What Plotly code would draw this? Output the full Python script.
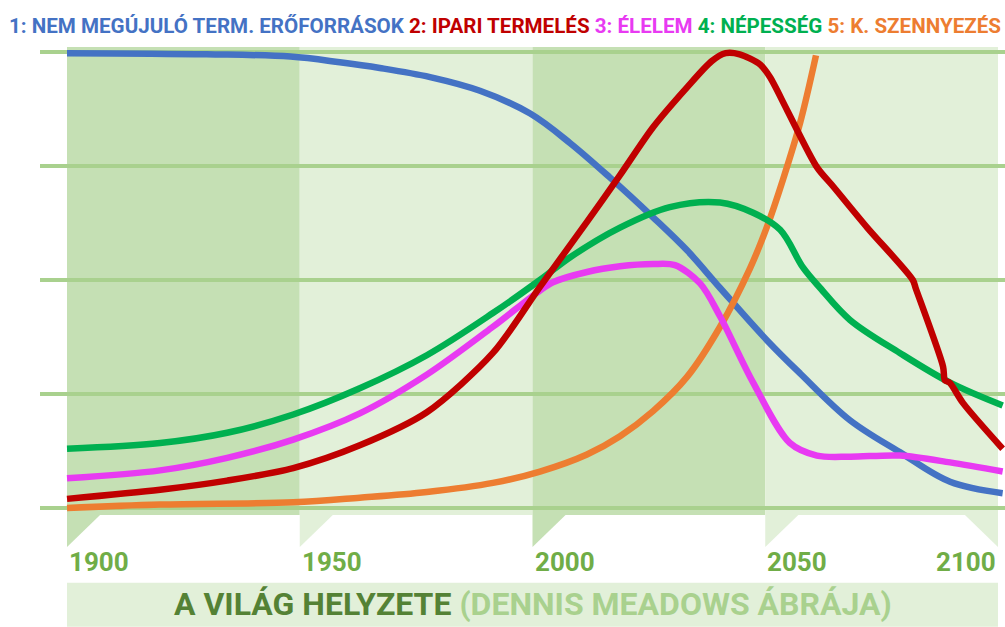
import plotly.graph_objects as go

# ---------------- data ----------------
series_names = ["1: NEM MEGÚJULÓ TERM. ERŐFORRÁSOK", "2: IPARI TERMELÉS", "3: ÉLELEM",
                "4: NÉPESSÉG", "5: K. SZENNYEZÉS"]
series_colors = ["#4472C4", "#C00000", "#E83AF2", "#00B050", "#ED7D31"]

res_x = [1900, 1930, 1948, 1958.6, 1967.2, 1978, 1988.7, 1999.5, 2008.1, 2016.6, 2025.9,
         2033.2, 2040.3, 2050.4, 2057.5, 2068.2, 2078.9, 2089.7, 2101]
res_y = [3.99, 3.98, 3.96, 3.91, 3.86, 3.78, 3.66, 3.46, 3.20, 2.90, 2.55,
         2.26, 1.93, 1.47, 1.18, 0.77, 0.49, 0.23, 0.13]

ind_x = [1900, 1920, 1934.4, 1948.6, 1962.9, 1977.3, 1991.5, 2001.6, 2011.7, 2018.8, 2025.9,
         2033.2, 2038.5, 2041.5, 2044.5, 2048.9, 2051, 2054.7, 2061.1, 2064.6, 2071.9, 2081.7,
         2082.3, 2088.2, 2088.6, 2089.6, 2092.5, 2101]
ind_y = [0.08, 0.16, 0.24, 0.35, 0.55, 0.84, 1.36, 1.94, 2.51, 2.92, 3.34,
         3.69, 3.92, 3.99, 3.98, 3.89, 3.78, 3.49, 2.99, 2.82, 2.46, 2.00,
         1.93, 1.24, 1.12, 1.10, 0.92, 0.52]

food_x = [1900, 1920, 1934.4, 1948.6, 1962.9, 1977.3, 1991.5, 2001, 2004.4, 2011.7, 2018.8,
          2025.9, 2030.6, 2036, 2040.3, 2047.4, 2055.3, 2061.1, 2068.2, 2078.9, 2089.7, 2101]
food_y = [0.26, 0.33, 0.44, 0.60, 0.83, 1.17, 1.59, 1.89, 1.98, 2.07, 2.12,
          2.14, 2.13, 1.97, 1.68, 1.10, 0.57, 0.46, 0.45, 0.46, 0.40, 0.32]

pop_x = [1900, 1920, 1934.4, 1948.6, 1962.9, 1977.3, 1991.5, 2001.6, 2008.1, 2018.8, 2029.5,
         2040.3, 2047.4, 2053.2, 2058.1, 2061.8, 2068.2, 2078.9, 2089.7, 2101]
pop_y = [0.52, 0.57, 0.66, 0.82, 1.05, 1.34, 1.71, 2.00, 2.20, 2.46, 2.64,
         2.68, 2.59, 2.44, 2.11, 1.93, 1.65, 1.36, 1.10, 0.90]

pol_x = [1900, 1920, 1948.6, 1962.9, 1977.3, 1991.5, 2001.6, 2011.7, 2018.8, 2025.9, 2033.2,
         2040.3, 2046.7, 2050.4, 2053.8, 2057.5, 2060.9]
pol_y = [0.0, 0.03, 0.05, 0.09, 0.14, 0.22, 0.32, 0.47, 0.63, 0.85, 1.15,
         1.59, 2.10, 2.47, 2.88, 3.38, 3.97]

tick_years = [1900, 1950, 2000, 2050, 2100]
title_main = "A VILÁG HELYZETE"
title_sub = "(DENNIS MEADOWS ÁBRÁJA)"

# ---------------- style ----------------
DARK_BAND = "#C5E0B4"
LIGHT_BAND = "#E2F0D9"
GRID = "#A9D18E"
TICK_COLOR = "#70AD47"
TITLE_DARK = "#548235"
FONT = "Roboto, sans-serif"

fig = go.Figure()
xs = [res_x, ind_x, food_x, pop_x, pol_x]
ys = [res_y, ind_y, food_y, pop_y, pol_y]
smooth = [1.0, 0.8, 0.9, 1.0, 1.0]
draw_order = [0, 4, 2, 3, 1]
for i in draw_order:
    fig.add_trace(go.Scatter(
        x=xs[i], y=ys[i], mode="lines", name=series_names[i],
        line=dict(color=series_colors[i], width=6.5, shape="spline", smoothing=smooth[i]),
        hoverinfo="x+y+name", showlegend=False))

shapes = []
band_cols = [DARK_BAND, LIGHT_BAND, DARK_BAND, LIGHT_BAND]
for k in range(4):
    shapes.append(dict(type="rect", xref="x", yref="paper",
                       x0=tick_years[k], x1=tick_years[k + 1], y0=0, y1=1,
                       fillcolor=band_cols[k], line=dict(width=0), layer="below"))
# tabs under the bands
tab_cols = [DARK_BAND, LIGHT_BAND, DARK_BAND, LIGHT_BAND, LIGHT_BAND]
tw = 7.1
ty = -0.0684
for k, yr in enumerate(tick_years):
    if k < 4:
        path = f"M {yr},0 L {yr + tw},0 L {yr},{ty} Z"
    else:
        path = f"M {yr},0 L {yr - tw},0 L {yr},{ty} Z"
    shapes.append(dict(type="path", xref="x", yref="paper", path=path,
                       fillcolor=tab_cols[k], line=dict(width=0), layer="below"))
# title bar
shapes.append(dict(type="rect", xref="x", yref="paper", x0=tick_years[0], x1=tick_years[-1],
                   y0=-0.239, y1=-0.145, fillcolor=LIGHT_BAND, line=dict(width=0), layer="below"))

annotations = []
for k, yr in enumerate(tick_years):
    annotations.append(dict(
        x=yr, y=-0.1, xref="x", yref="paper", text=f"<b>{yr}</b>", showarrow=False,
        xanchor="left" if k < 4 else "right", yanchor="middle",
        font=dict(family=FONT, size=26, color=TICK_COLOR)))

legend_text = " ".join(f'<span style="color:{c}">{n}</span>' for n, c in zip(series_names, series_colors))
annotations.append(dict(
    x=-0.034, y=1.045, xref="paper", yref="paper", text=f"<b>{legend_text}</b>",
    showarrow=False, xanchor="left", yanchor="middle",
    font=dict(family=FONT, size=20.6)))

annotations.append(dict(
    x=2000, y=-0.191, xref="x", yref="paper",
    text=f'<b><span style="color:{TITLE_DARK}">{title_main}</span> <span style="color:{GRID}">{title_sub}</span></b>',
    showarrow=False, xanchor="center", yanchor="middle",
    font=dict(family=FONT, size=32)))

px_per_year = 232.75 / 50
fig.update_layout(
    width=1005, height=627,
    margin=dict(l=40, r=0, t=47, b=112),
    paper_bgcolor="white", plot_bgcolor="white",
    shapes=shapes, annotations=annotations,
    xaxis=dict(range=[1900 - 27 / px_per_year, 1900 + 938 / px_per_year],
               showgrid=False, zeroline=False, showticklabels=False, ticks=""),
    yaxis=dict(range=[-7 / 114, 4 + 5 / 114], tickvals=[0, 1, 2, 3, 4],
               showgrid=True, gridcolor=GRID, gridwidth=4, zeroline=False,
               showticklabels=False, ticks=""),
)

fig.write_html("out.html", config={"displayModeBar": False},
               post_script="document.body.style.margin='0';")
